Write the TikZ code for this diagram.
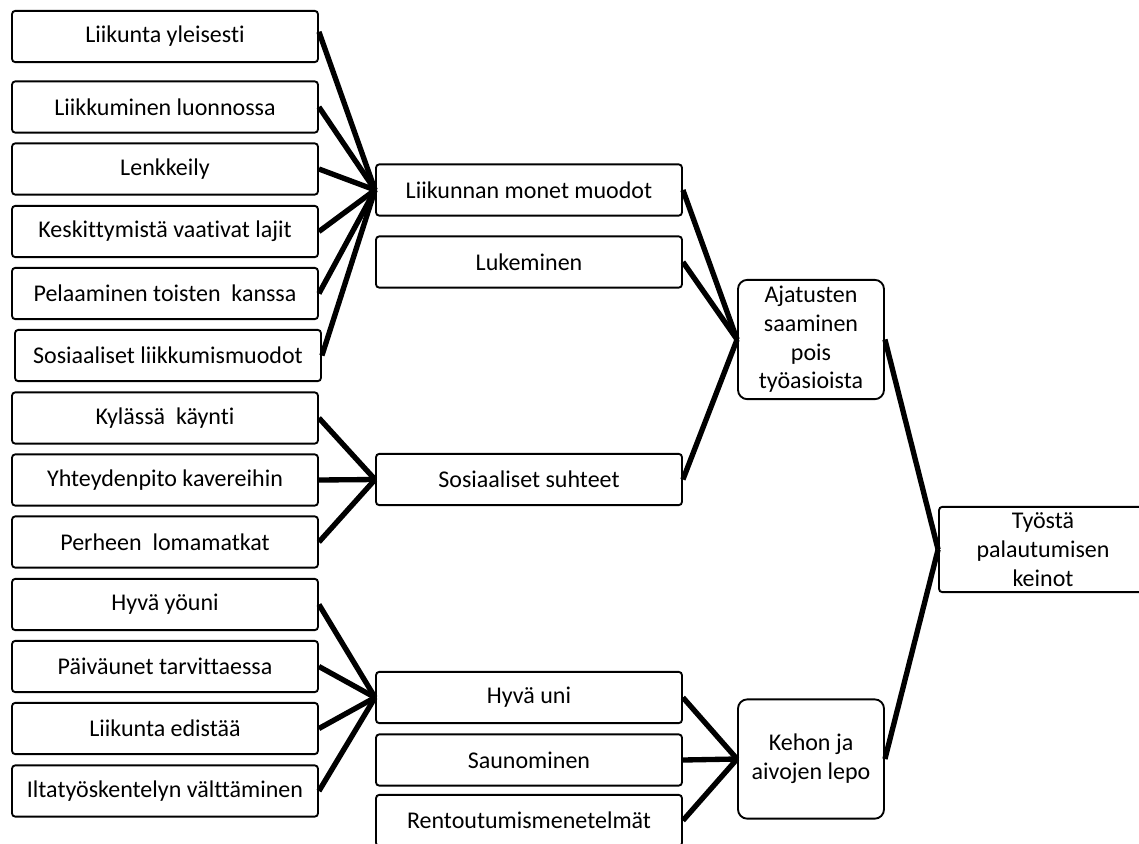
\documentclass[tikz,border=0pt]{standalone}
\usepackage{fontspec}
\setmainfont{Carlito}[Ligatures=NoCommon]

\begin{document}
\begin{tikzpicture}
  [x=0.75pt,y=-0.75pt,
   every node/.style={draw,line width=1.4pt,rounded corners=2.5pt,fill=white,align=center,
     inner sep=0pt,font=\fontsize{18}{21.5}\selectfont},
   item/.style={minimum width=229.5pt,minimum height=38.5pt},
   group/.style={minimum width=109.5pt,minimum height=89.5pt,rounded corners=7pt},
   link/.style={line width=4pt}]
  \useasboundingbox (0,0) rectangle (1139,843);

  % left column
  \node[item] (l1) at (165,36.5) {Liikunta yleisesti};
  \node[item] (l2) at (165,107) {Liikkuminen luonnossa};
  \node[item] (l3) at (165,169) {Lenkkeily};
  \node[item] (l4) at (165,231.5) {Keskittymistä vaativat lajit};
  \node[item] (l5) at (165,293.5) {Pelaaminen toisten~ kanssa};
  \node[item] (l6) at (168,355.5) {Sosiaaliset liikkumismuodot};
  \node[item] (l7) at (165,418) {Kylässä~ käynti};
  \node[item] (l8) at (165,480) {Yhteydenpito kavereihin};
  \node[item] (l9) at (165,542) {Perheen~ lomamatkat};
  \node[item] (l10) at (165,604.5) {Hyvä yöuni};
  \node[item] (l11) at (165,666.5) {Päiväunet tarvittaessa};
  \node[item] (l12) at (165,728.5) {Liikunta edistää};
  \node[item] (l13) at (165,791) {Iltatyöskentelyn välttäminen};

  % middle column
  \node[item] (m1) at (529,190) {Liikunnan monet muodot};
  \node[item] (m2) at (529,262) {Lukeminen};
  \node[item] (m3) at (529,479.5) {Sosiaaliset suhteet};
  \node[item] (m4) at (529,697.5) {Hyvä uni};
  \node[item] (m5) at (529,760) {Saunominen};
  \node[item] (m6) at (529,820.5) {Rentoutumismenetelmät};

  % groups
  \node[group] (g1) at (811,339.5) {Ajatusten\\saaminen\\pois\\työasioista};
  \node[group] (g2) at (811,759) {Kehon ja\\aivojen lepo};
  \node[minimum width=156pt,minimum height=64pt] (top) at (1043,549.5) {Työstä\\palautumisen\\keinot};

  \draw [link] ([yshift=3.5pt]l1.east) -- (m1.west);
  \foreach \from/\to in {l2/m1, l3/m1, l4/m1, l5/m1, l6/m1, l7/m3, l8/m3, l9/m3,
      l10/m4, l11/m4, l12/m4, l13/m4, m1/g1, m2/g1, m3/g1, m4/g2, m5/g2, m6/g2, g1/top, g2/top}
    \draw [link] (\from.east) -- (\to.west);

\end{tikzpicture}
\end{document}
